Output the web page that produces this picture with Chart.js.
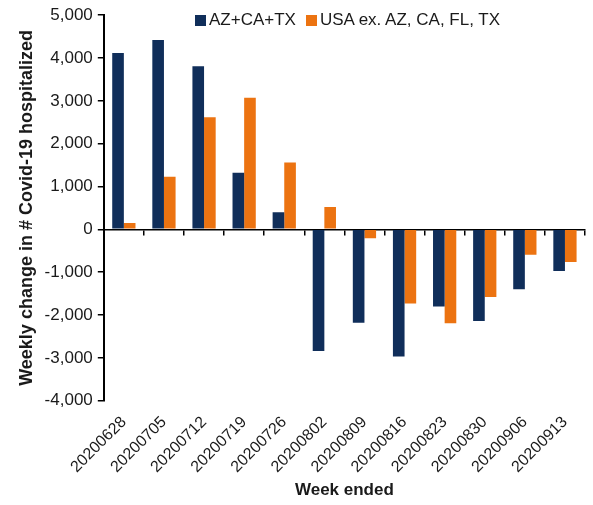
<!DOCTYPE html>
<html>
<head>
<meta charset="utf-8">
<script src="https://cdn.jsdelivr.net/npm/chart.js@4.4.0/dist/chart.umd.min.js"></script>
<style>
  body{margin:0;background:#fff;font-family:'Liberation Sans', Arial, sans-serif;}
  .wrap{position:relative;width:593px;height:505px;}
  #chart{display:block;}
  #legend{position:absolute;left:195px;top:10px;display:flex;gap:10px;font-size:17px;color:#1a1a1a;white-space:nowrap;}
  #legend span.item{display:flex;align-items:center;}
  #legend i{display:inline-block;width:11px;height:11px;margin-right:3px;}
</style>
</head>
<body>
<div class="wrap">
  <canvas id="chart" width="593" height="505"></canvas>
  <div id="legend"></div>
</div>
<script>
const weeks = ["20200628","20200705","20200712","20200719","20200726","20200802",
               "20200809","20200816","20200823","20200830","20200906","20200913"];
const azCaTx   = [4120, 4420, 3810, 1320, 400, -2840, -2180, -2970, -1800, -2140, -1400, -970];
const usaExRest = [150, 1230, 2620, 3070, 1560, 520, -210, -1730, -2190, -1580, -590, -760];
const yTicks = {min: -4000, max: 5000, step: 1000};

const FONT = "'Liberation Sans', Arial, sans-serif";
const ink = "#1a1a1a";

const chart = new Chart(document.getElementById("chart"), {
  type: "bar",
  data: {
    labels: weeks,
    datasets: [
      {label: "AZ+CA+TX", data: azCaTx, backgroundColor: "#102e5a"},
      {label: "USA ex. AZ, CA, FL, TX", data: usaExRest, backgroundColor: "#ec7311"}
    ]
  },
  options: {
    responsive: false,
    animation: false,
    layout: {padding: {top: 10, right: 8, left: 16, bottom: 4}},
    datasets: {bar: {categoryPercentage: 0.58, barPercentage: 1}},
    plugins: {
      tooltip: {enabled: false},
      legend: {display: false}
    },
    scales: {
      x: {
        position: "bottom",
        grid: {display: false},
        border: {display: false},
        ticks: {
          color: ink, maxRotation: 45, minRotation: 45, padding: 4,
          font: {family: FONT, size: 16}
        },
        title: {
          display: true, text: "Week ended", color: ink, padding: {top: 0, bottom: 0},
          font: {family: FONT, size: 17, weight: "bold"}
        }
      },
      x0: {
        type: "category",
        position: {y: 0},
        offset: true,
        grid: {offset: true, drawOnChartArea: false, drawTicks: true, tickLength: 5, color: "#000", lineWidth: 1.5},
        border: {display: true, color: "#000", width: 1.5},
        ticks: {display: false}
      },
      y: {
        min: yTicks.min, max: yTicks.max,
        grid: {drawOnChartArea: false, drawTicks: true, tickLength: 6, color: "#000", lineWidth: 1.5},
        border: {display: true, color: "#000", width: 2},
        ticks: {
          stepSize: yTicks.step, color: ink, padding: 5,
          font: {family: FONT, size: 17},
          callback: v => v.toLocaleString("en-US")
        },
        title: {
          display: true, text: "Weekly change in # Covid-19 hospitalized", color: ink,
          padding: {top: 0, bottom: 2},
          font: {family: FONT, size: 18, weight: "bold"}
        }
      }
    }
  }
});

// legend
const legendEl = document.getElementById("legend");
chart.data.datasets.forEach(ds => {
  const s = document.createElement("span");
  s.className = "item";
  s.innerHTML = `<i style="background:${ds.backgroundColor}"></i>${ds.label}`;
  legendEl.appendChild(s);
});
</script>
</body>
</html>
